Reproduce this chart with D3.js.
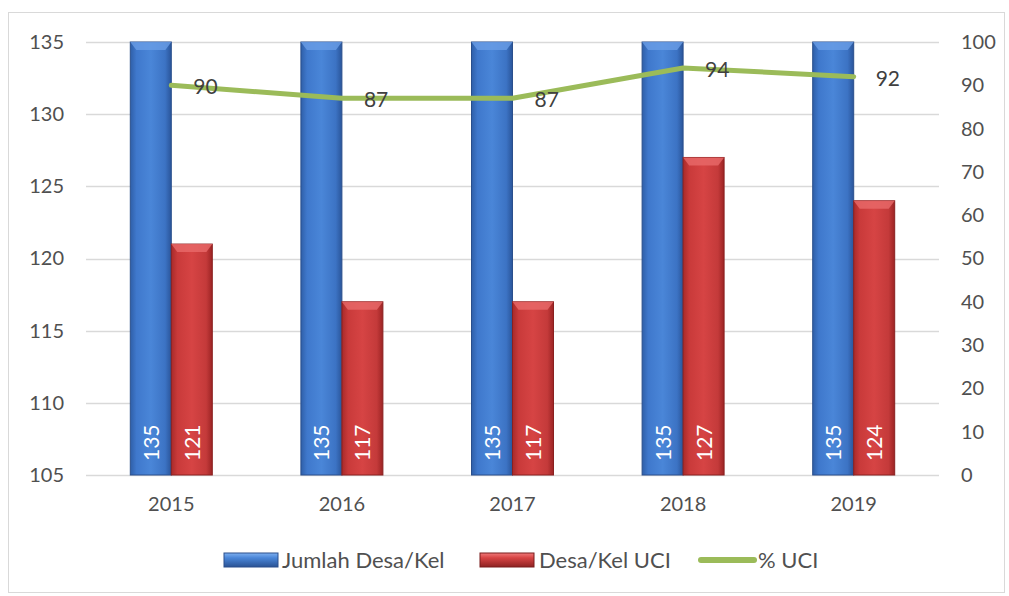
<!DOCTYPE html>
<html>
<head>
<meta charset="utf-8">
<script src="https://cdn.jsdelivr.net/npm/d3@7"></script>
<style>
  body { margin: 0; background: #fff; }
  text { font-family: Lato, "Open Sans", sans-serif; fill: #505050; }
</style>
</head>
<body>
<div id="chart"></div>
<script>
var years = ["2015", "2016", "2017", "2018", "2019"];
var jumlahDesa = [135, 135, 135, 135, 135];
var desaUci = [121, 117, 117, 127, 124];
var persenUci = [90, 87, 87, 94, 92];
var leftTicks = [105, 110, 115, 120, 125, 130, 135];
var rightTicks = [0, 10, 20, 30, 40, 50, 60, 70, 80, 90, 100];
var seriesNames = ["Jumlah Desa/Kel", "Desa/Kel UCI", "% UCI"];

var width = 1009, height = 596,
  margins = {top: 42, left: 86, right: 70, bottom: 121};

var svg = d3.select("#chart").append("svg")
  .attr("width", width)
  .attr("height", height);

var defs = svg.append("defs");

function addGradient(id, stops, vertical) {
  var g = defs.append("linearGradient").attr("id", id)
    .attr("x1", "0%").attr("x2", vertical ? "0%" : "100%")
    .attr("y1", "0%").attr("y2", vertical ? "100%" : "0%");
  stops.forEach(function (s) {
    g.append("stop").attr("offset", s[0]).attr("stop-color", s[1]);
  });
}
addGradient("blueGrad", [["0%", "#2f5fa8"], ["15%", "#3f78cc"], ["50%", "#4a86d8"], ["85%", "#3c73c4"], ["100%", "#2a559a"]]);
addGradient("redGrad", [["0%", "#a82a2a"], ["15%", "#c93a3a"], ["50%", "#d64444"], ["85%", "#c43a3a"], ["100%", "#9c2424"]]);
addGradient("blueLeg", [["0%", "#7fb0f0"], ["35%", "#4a86d8"], ["100%", "#2a5294"]], true);
addGradient("redLeg", [["0%", "#f07a7a"], ["35%", "#d64444"], ["100%", "#8e2222"]], true);

// chart frame
svg.append("rect")
  .attr("x", 8.5).attr("y", 12.5)
  .attr("width", 996).attr("height", 580)
  .attr("fill", "none").attr("stroke", "#d9d9d9");

var innerW = width - margins.left - margins.right,
  innerH = height - margins.top - margins.bottom;

var body = svg.append("g")
  .attr("transform", "translate(" + margins.left + "," + margins.top + ")");

var x = d3.scaleBand().domain(years).range([0, innerW]);
var yLeft = d3.scaleLinear().domain([105, 135]).range([innerH, 0]);
var yRight = d3.scaleLinear().domain([0, 100]).range([innerH, 0]);

// gridlines
body.selectAll("line.grid")
  .data(leftTicks)
  .enter().append("line")
  .attr("class", "grid")
  .attr("x1", 0).attr("x2", innerW)
  .attr("y1", function (d) { return Math.round(yLeft(d)) + 0.5; })
  .attr("y2", function (d) { return Math.round(yLeft(d)) + 0.5; })
  .attr("stroke", "#d9d9d9").attr("stroke-width", 1.3);

// axes
var leftAxis = body.append("g")
  .call(d3.axisLeft(yLeft).tickValues(leftTicks).tickSize(0).tickPadding(22));
var rightAxis = body.append("g")
  .attr("transform", "translate(" + innerW + ",0)")
  .call(d3.axisRight(yRight).tickValues(rightTicks).tickSize(0).tickPadding(22));
var bottomAxis = body.append("g")
  .attr("transform", "translate(0," + innerH + ")")
  .call(d3.axisBottom(x).tickSize(0).tickPadding(22));

[leftAxis, rightAxis, bottomAxis].forEach(function (a) {
  a.select(".domain").remove();
  a.selectAll("text").style("font-size", "20px").attr("fill", "#505050");
});

// bars
var barW = 41;
function drawBars(values, offset, grad, stroke, bevel) {
  var g = body.selectAll("g.bar-" + grad)
    .data(values)
    .enter().append("g")
    .attr("class", "bar-" + grad);

  g.append("rect")
    .attr("x", function (d, i) { return x(years[i]) + x.bandwidth() / 2 + offset; })
    .attr("y", function (d) { return yLeft(d); })
    .attr("width", barW)
    .attr("height", function (d) { return innerH - yLeft(d); })
    .attr("fill", "url(#" + grad + ")")
    .attr("stroke", stroke).attr("stroke-width", 1);

  g.append("path")
    .attr("d", function (d, i) {
      var x0 = x(years[i]) + x.bandwidth() / 2 + offset, y0 = yLeft(d);
      var p = d3.path();
      p.moveTo(x0, y0);
      p.lineTo(x0 + barW, y0);
      p.lineTo(x0 + barW - 6, y0 + 8);
      p.lineTo(x0 + 6, y0 + 8);
      p.closePath();
      return p.toString();
    })
    .attr("fill", bevel).attr("opacity", 0.8);

  g.append("text")
    .attr("transform", function (d, i) {
      var cx = x(years[i]) + x.bandwidth() / 2 + offset + barW / 2;
      return "translate(" + (cx + 8) + "," + (innerH - 14) + ") rotate(-90)";
    })
    .attr("text-anchor", "start")
    .style("font-size", "21px")
    .style("fill", "#fff")
    .text(function (d) { return d; });
}
drawBars(jumlahDesa, -barW, "blueGrad", "#2a4f8c", "#6a9ee6");
drawBars(desaUci, 0, "redGrad", "#8a2020", "#e86a6a");

// line
var line = d3.line()
  .x(function (d, i) { return x(years[i]) + x.bandwidth() / 2; })
  .y(function (d) { return yRight(d); });

body.append("path")
  .datum(persenUci)
  .attr("d", line)
  .attr("fill", "none")
  .attr("stroke", "#9bbb59")
  .attr("stroke-width", 5)
  .attr("stroke-linecap", "round")
  .attr("stroke-linejoin", "round");

body.selectAll("text.pct")
  .data(persenUci)
  .enter().append("text")
  .attr("class", "pct")
  .attr("x", function (d, i) { return x(years[i]) + x.bandwidth() / 2 + 22; })
  .attr("y", function (d) { return yRight(d) + 9; })
  .style("font-size", "21px")
  .style("fill", "#404040")
  .text(function (d) { return d; });

// legend
var legend = svg.append("g").attr("transform", "translate(224,553)");
var legItems = [
  {x: 0, type: "bar", fill: "url(#blueLeg)", stroke: "#2a4f8c", tx: 58},
  {x: 256, type: "bar", fill: "url(#redLeg)", stroke: "#7a1c1c", tx: 315},
  {x: 474, type: "line", tx: 534}
];
legItems.forEach(function (it, i) {
  if (it.type === "bar") {
    legend.append("rect")
      .attr("x", it.x).attr("y", 0)
      .attr("width", 54).attr("height", 14)
      .attr("fill", it.fill).attr("stroke", it.stroke);
  } else {
    legend.append("line")
      .attr("x1", it.x + 3).attr("x2", it.x + 56)
      .attr("y1", 7).attr("y2", 7)
      .attr("stroke", "#9bbb59").attr("stroke-width", 6)
      .attr("stroke-linecap", "round");
  }
  legend.append("text")
    .attr("x", it.tx).attr("y", 15)
    .style("font-size", "22px")
    .text(seriesNames[i]);
});
</script>
</body>
</html>
